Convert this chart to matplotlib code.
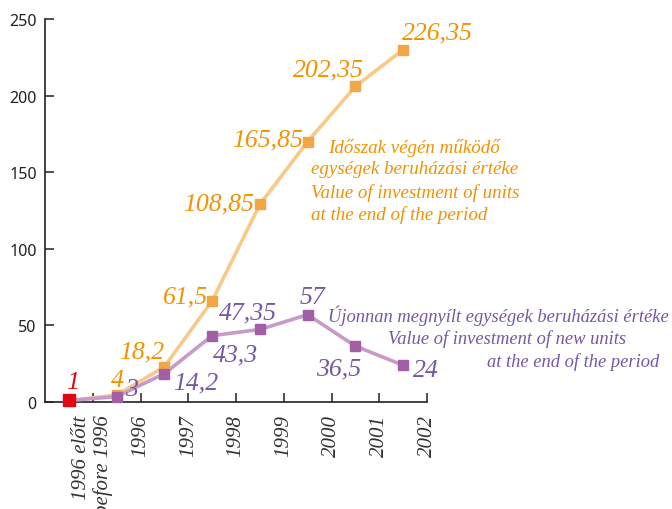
import matplotlib
matplotlib.use("Agg")
import matplotlib.pyplot as plt

# adatok - a pontok ott vannak, ahol az eredeti abran latszanak
periods = ["1996 előtt\nbefore 1996", "1996", "1997", "1998", "1999", "2000", "2001", "2002"]
total_vals = [1, 4.5, 23, 66, 129, 170, 206, 230]      # idoszak vegen mukodo
new_vals = [1, 3.5, 18.5, 43.3, 47.35, 57, 36.5, 24]   # ujonnan megnyilt
total_labels = ["", "4", "18,2", "61,5", "108,85", "165,85", "202,35", "226,35"]
new_labels = ["", "3", "14,2", "43,3", "47,35", "57", "36,5", "24"]
first_label = "1"

# cimke eltolasok (pixel)
total_offsets = [(0, 0), (1, 15), (-23, 15), (-27, 4), (-41, 1), (-40, 2), (-27, 17), (34, 17)]
new_offsets = [(0, 0), (15, 8), (31, -9), (23, -19), (-12, 17), (5, 18), (-17, -22), (23, -5)]

ORANGE_LINE = "#f9c98a"
ORANGE_MARK = "#f3a646"
ORANGE_TEXT = "#f39200"
PURPLE_LINE = "#c79bc9"
PURPLE_MARK = "#a35fa6"
PURPLE_TEXT = "#7558a3"
RED = "#e30613"

serif = "Liberation Serif"
sans = "Noto Sans"

fig = plt.figure(figsize=(6.72, 5.10), dpi=100)
ax = fig.add_axes([45 / 672, 107 / 510, 382 / 672, 383 / 510])

x = list(range(len(total_vals)))

ax.plot(x, total_vals, color=ORANGE_LINE, lw=2.6, zorder=2, clip_on=False)
ax.plot(x, new_vals, color=PURPLE_LINE, lw=2.6, zorder=3, clip_on=False)
ax.plot(x[1:], total_vals[1:], ls="none", marker="s", ms=7, color=ORANGE_MARK, zorder=4, clip_on=False)
ax.plot(x[1:], new_vals[1:], ls="none", marker="s", ms=7, color=PURPLE_MARK, zorder=5, clip_on=False)
ax.plot(x[0], new_vals[0], ls="none", marker="s", ms=8, color=RED, zorder=6, clip_on=False)

ax.annotate(first_label, (x[0], new_vals[0]), xytext=(4, 18), textcoords="offset pixels",
            ha="center", va="center", fontsize=19, style="italic", family=serif, color=RED)
for i in x[1:]:
    ax.annotate(total_labels[i], (i, total_vals[i]), xytext=total_offsets[i], textcoords="offset pixels",
                ha="center", va="center", fontsize=18.5, style="italic", family=serif, color=ORANGE_TEXT, zorder=7)
    ax.annotate(new_labels[i], (i, new_vals[i]), xytext=new_offsets[i], textcoords="offset pixels",
                ha="center", va="center", fontsize=18.5, style="italic", family=serif, color=PURPLE_TEXT, zorder=7)

# magyarazo szovegek
orange_lines = [("Időszak végén működő", 328, 148),
                ("egységek beruházási értéke", 311, 170),
                ("Value of investment of units", 311, 193),
                ("at the end of the period", 311, 215)]
purple_lines = [("Újonnan megnyílt egységek beruházási értéke", 328, 316),
                ("Value of investment of new units", 388, 339),
                ("at the end of the period", 487, 362)]
for txt, px, py in orange_lines:
    fig.text(px / 672, 1 - py / 510, txt, ha="left", va="center", fontsize=13.7,
             style="italic", family=serif, color=ORANGE_TEXT)
for txt, px, py in purple_lines:
    fig.text(px / 672, 1 - py / 510, txt, ha="left", va="center", fontsize=13.3,
             style="italic", family=serif, color=PURPLE_TEXT)

ax.set_xlim(-0.5, 7.5)
ax.set_ylim(0, 250)
ax.set_yticks([0, 50, 100, 150, 200, 250])
ax.set_xticks([i + 0.5 for i in x])
ax.set_xticklabels(periods, rotation=90, fontsize=15, style="italic", family=serif,
                   color="#333333", multialignment="right", linespacing=1.15)
for lab in ax.get_yticklabels():
    lab.set_family(sans)
    lab.set_fontsize(11.5)
    lab.set_color("#222222")

ax.tick_params(axis="both", direction="in", length=6.5, width=1.1, color="#222222")
ax.tick_params(axis="x", pad=9)
ax.tick_params(axis="y", pad=6)

for s in ["top", "right"]:
    ax.spines[s].set_visible(False)
for s in ["left", "bottom"]:
    ax.spines[s].set_linewidth(1.2)
    ax.spines[s].set_color("#222222")

fig.savefig("out.png", dpi=100)
